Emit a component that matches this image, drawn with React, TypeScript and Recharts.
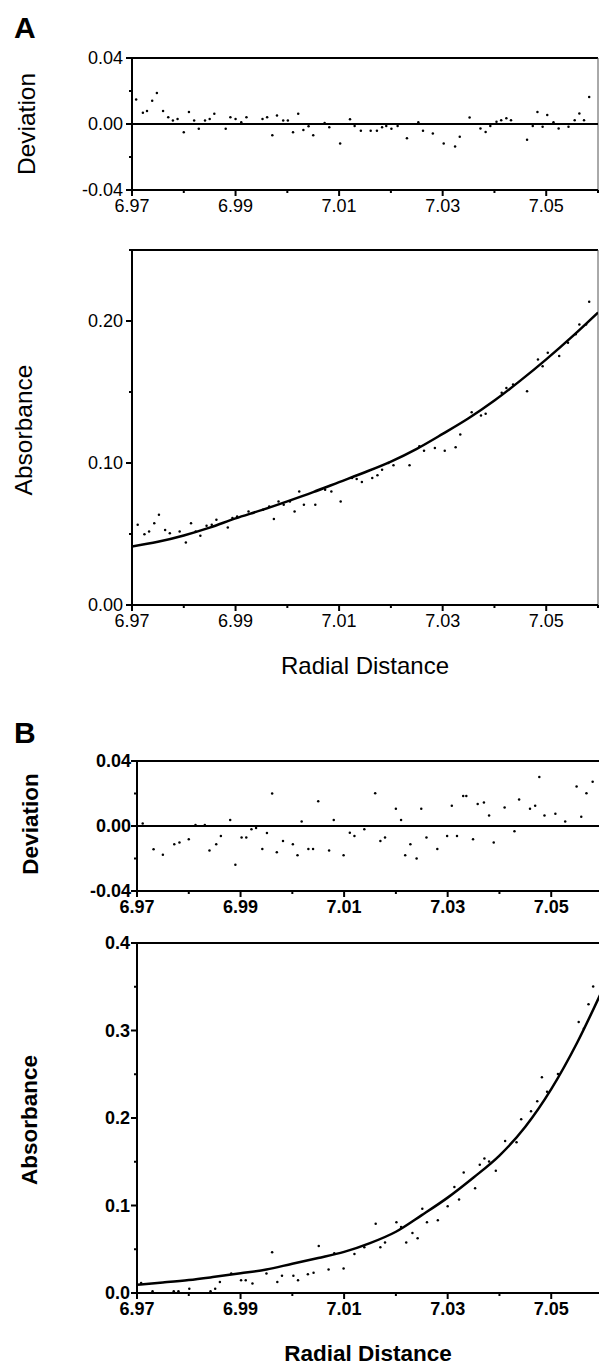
import { ComposedChart, Scatter, Line, XAxis, YAxis, ReferenceLine } from 'recharts';

const FONT = '"Liberation Sans", Arial, sans-serif';

// shared radial axis
const radialTicks = [6.97, 6.98, 6.99, 7.0, 7.01, 7.02, 7.03, 7.04, 7.05, 7.06];
const radialLabels = [6.97, 6.99, 7.01, 7.03, 7.05];

// fitted curves (read every 0.005)
const fitRadius = [6.97, 6.975, 6.98, 6.985, 6.99, 6.995, 7.0, 7.005, 7.01, 7.015, 7.02, 7.025, 7.03, 7.035, 7.04, 7.045, 7.05, 7.055, 7.06];
const fitA = [0.0412, 0.0445, 0.049, 0.0545, 0.061, 0.0668, 0.073, 0.0795, 0.0865, 0.0935, 0.101, 0.11, 0.1205, 0.1315, 0.144, 0.158, 0.173, 0.189, 0.206];
const fitB = [0.0095, 0.012, 0.0148, 0.0185, 0.0225, 0.0268, 0.0335, 0.04, 0.047, 0.057, 0.07, 0.089, 0.109, 0.132, 0.157, 0.19, 0.233, 0.286, 0.348];

// panel A residuals
const devARadius = [6.9708, 6.9721, 6.9729, 6.9739, 6.9748, 6.976, 6.977, 6.9779, 6.9788, 6.98, 6.981, 6.982, 6.9829, 6.9841, 6.985, 6.9859, 6.9881, 6.989, 6.99, 6.9911, 6.9921, 6.9952, 6.9961, 6.9971, 6.998, 6.9992, 7.0001, 7.0011, 7.0021, 7.0031, 7.0041, 7.005, 7.0072, 7.0081, 7.0102, 7.0121, 7.013, 7.0142, 7.0161, 7.0173, 7.0183, 7.0191, 7.0201, 7.0213, 7.0231, 7.0253, 7.0262, 7.0281, 7.0302, 7.0324, 7.0333, 7.0352, 7.0373, 7.0383, 7.0392, 7.0404, 7.0413, 7.0423, 7.0432, 7.0463, 7.0474, 7.0483, 7.0493, 7.0502, 7.0514, 7.0524, 7.0543, 7.0555, 7.0564, 7.0573, 7.0583];
const devAValue = [0.0149, 0.0068, 0.0079, 0.0141, 0.0188, 0.0079, 0.0041, 0.0021, 0.0031, -0.005, 0.0072, 0.0021, -0.0029, 0.0021, 0.0031, 0.0062, -0.0029, 0.0041, 0.0031, 0.001, 0.0041, 0.0031, 0.0041, -0.0068, 0.0052, 0.0021, 0.0021, -0.005, 0.0062, -0.0037, -0.0014, -0.0068, 0.0006, -0.002, -0.0118, 0.0029, -0.0012, -0.0041, -0.0041, -0.0041, -0.002, -0.0012, -0.0029, -0.0012, -0.0087, 0.001, -0.0041, -0.0058, -0.0118, -0.0137, -0.0077, 0.004, -0.0027, -0.0048, -0.0012, 0.0014, 0.0023, 0.0035, 0.0023, -0.0095, -0.0012, 0.0072, -0.0017, 0.0054, 0.001, -0.0027, -0.0017, 0.0023, 0.0064, 0.0023, 0.0164];

// panel A absorbance points
const absARadius = [6.9711, 6.9724, 6.9733, 6.9743, 6.9752, 6.9764, 6.9773, 6.9792, 6.9804, 6.9814, 6.9823, 6.9832, 6.9844, 6.9854, 6.9863, 6.9885, 6.9894, 6.9903, 6.9925, 6.9953, 6.9965, 6.9974, 6.9983, 6.9993, 7.0005, 7.0014, 7.0023, 7.0032, 7.0054, 7.0073, 7.0085, 7.0103, 7.0125, 7.0134, 7.0144, 7.0164, 7.0174, 7.0183, 7.0195, 7.0205, 7.0236, 7.0255, 7.0264, 7.0285, 7.0304, 7.0325, 7.0334, 7.0356, 7.0374, 7.0383, 7.0414, 7.0423, 7.0436, 7.0463, 7.0484, 7.0493, 7.0503, 7.0525, 7.0542, 7.0557, 7.0564, 7.0577, 7.0583];
const absAValue = [0.0565, 0.0499, 0.0518, 0.0576, 0.0635, 0.0529, 0.0506, 0.0518, 0.044, 0.0576, 0.0518, 0.0487, 0.0558, 0.0565, 0.06, 0.0546, 0.0612, 0.0624, 0.0659, 0.0671, 0.0694, 0.0605, 0.0729, 0.0706, 0.0729, 0.0659, 0.08, 0.0706, 0.0706, 0.0812, 0.08, 0.0729, 0.0894, 0.0887, 0.0866, 0.0894, 0.0913, 0.0953, 0.1, 0.0984, 0.0984, 0.1118, 0.1087, 0.1106, 0.1087, 0.1111, 0.12, 0.1358, 0.1334, 0.1346, 0.1494, 0.1529, 0.1553, 0.1506, 0.1729, 0.1682, 0.1776, 0.1753, 0.1847, 0.1906, 0.1976, 0.1976, 0.2136];

// panel B residuals
const devBRadius = [6.9711, 6.9732, 6.975, 6.9772, 6.9782, 6.98, 6.9813, 6.9831, 6.984, 6.9853, 6.9862, 6.988, 6.989, 6.9902, 6.9911, 6.9921, 6.993, 6.9942, 6.9951, 6.9961, 6.997, 6.9982, 7.0001, 7.001, 7.0018, 7.0031, 7.004, 7.005, 7.0071, 7.008, 7.0099, 7.0111, 7.012, 7.0139, 7.016, 7.017, 7.0179, 7.02, 7.021, 7.0218, 7.0228, 7.024, 7.0249, 7.0259, 7.028, 7.0299, 7.0308, 7.0318, 7.033, 7.0336, 7.0349, 7.0358, 7.037, 7.038, 7.0389, 7.041, 7.0429, 7.0438, 7.0459, 7.0469, 7.0477, 7.0487, 7.0508, 7.0527, 7.0549, 7.0558, 7.0568, 7.058];
const devBValue = [0.0016, -0.0143, -0.0177, -0.0112, -0.0102, -0.0082, 0.0006, 0.0006, -0.0151, -0.0112, -0.0061, 0.0037, -0.0239, -0.0071, -0.0071, -0.002, -0.0012, -0.0141, -0.0043, 0.02, -0.0161, -0.0092, -0.0112, -0.018, 0.0027, -0.0141, -0.0141, 0.0153, -0.0151, 0.0037, -0.018, -0.0041, -0.0061, -0.002, 0.0202, -0.0092, -0.0071, 0.0106, 0.0037, -0.018, -0.0112, -0.02, 0.0106, -0.0071, -0.0141, -0.0061, 0.0124, -0.0061, 0.0184, 0.0184, -0.0082, 0.0135, 0.0145, 0.0065, -0.0102, 0.0114, -0.0033, 0.0163, 0.0106, 0.0124, 0.0302, 0.0065, 0.0075, 0.0027, 0.0243, 0.0057, 0.0202, 0.0273];

// panel B absorbance points
const absBRadius = [6.9708, 6.973, 6.9771, 6.978, 6.9801, 6.9842, 6.9851, 6.986, 6.9882, 6.9901, 6.991, 6.9923, 6.995, 6.9961, 6.9971, 6.998, 7.0002, 7.0011, 7.003, 7.0041, 7.0051, 7.007, 7.0081, 7.0099, 7.012, 7.0139, 7.0161, 7.017, 7.0179, 7.0201, 7.021, 7.022, 7.0232, 7.0242, 7.0251, 7.026, 7.0281, 7.03, 7.0313, 7.0322, 7.0331, 7.0353, 7.0362, 7.0371, 7.038, 7.0393, 7.0411, 7.0433, 7.0442, 7.0461, 7.0473, 7.0482, 7.0492, 7.0513, 7.0553, 7.0563, 7.0572, 7.0581];
const absBValue = [0.0115, 0.0019, 0.0019, 0.0019, 0.005, 0.0019, 0.005, 0.0127, 0.0223, 0.0146, 0.0146, 0.0108, 0.0223, 0.0465, 0.0127, 0.0196, 0.0196, 0.0146, 0.0215, 0.0231, 0.0538, 0.0269, 0.0454, 0.0281, 0.0446, 0.0523, 0.0792, 0.0523, 0.0577, 0.0808, 0.0754, 0.0577, 0.0685, 0.0627, 0.0962, 0.0808, 0.0831, 0.0992, 0.1212, 0.1069, 0.1377, 0.1196, 0.1465, 0.1538, 0.1504, 0.1396, 0.1738, 0.1723, 0.1985, 0.2077, 0.2192, 0.2465, 0.23, 0.2504, 0.3096, 0.3019, 0.33, 0.3504];

const devTicks = [-0.04, -0.02, 0, 0.02, 0.04];
const devLabels = [-0.04, 0, 0.04];
const absATicks = [0, 0.05, 0.1, 0.15, 0.2, 0.25];
const absALabels = [0, 0.1, 0.2];
const absBTicks = [0, 0.05, 0.1, 0.15, 0.2, 0.25, 0.3, 0.35, 0.4];
const absBLabels = [0, 0.1, 0.2, 0.3, 0.4];

const toPoints = (rs: number[], vs: number[]) => rs.map((r, i) => ({ r, v: vs[i] }));

const isIn = (list: number[], v: number) => list.some((l) => Math.abs(l - v) < 1e-6);

function xTick(bold: boolean) {
  return (p: any) => {
    const { x, y, payload } = p;
    const major = isIn(radialLabels, payload.value);
    return (
      <g>
        <line x1={x} x2={x} y1={y} y2={y + (major ? 6 : 3)} stroke="#000" strokeWidth={2} />
        {major && (
          <text x={x} y={y + 22} textAnchor="middle" fontSize={18} fontFamily={FONT} fontWeight={bold ? 700 : 400} fill="#000">
            {payload.value.toFixed(2)}
          </text>
        )}
      </g>
    );
  };
}

function yTick(labels: number[], digits: number, gap: number, bold: boolean) {
  return (p: any) => {
    const { x, y, payload } = p;
    const major = isIn(labels, payload.value);
    return (
      <g>
        <line x1={x - (major ? 6 : 3)} x2={x} y1={y} y2={y} stroke="#000" strokeWidth={2} />
        {major && (
          <text x={x - gap} y={y + 6} textAnchor="end" fontSize={18} fontFamily={FONT} fontWeight={bold ? 700 : 400} fill="#000">
            {payload.value.toFixed(digits)}
          </text>
        )}
      </g>
    );
  };
}

const dot = (p: any) => <circle cx={p.cx} cy={p.cy} r={1.25} fill="#000" />;

interface PanelProps {
  top: number;
  width: number;
  height: number;
  marginTop: number;
  axisWidth: number;
  yDomain: [number, number];
  yTicks: number[];
  yLabels: number[];
  digits: number;
  gap: number;
  bold: boolean;
  points: { r: number; v: number }[];
  fit?: { r: number; v: number }[];
  zeroLine?: boolean;
}

function Panel(props: PanelProps) {
  const { top, width, height, marginTop, axisWidth, yDomain, yTicks, yLabels, digits, gap, bold, points, fit, zeroLine } = props;
  return (
    <div style={{ position: 'absolute', left: 0, top }}>
      <ComposedChart width={width} height={height} margin={{ top: marginTop, right: 1, bottom: 0, left: 0 }}>
        <XAxis
          type="number"
          dataKey="r"
          domain={[6.97, 7.06]}
          ticks={radialTicks}
          interval={0}
          allowDataOverflow
          height={40}
          tickSize={0}
          tickMargin={0}
          axisLine={{ stroke: '#000', strokeWidth: 2 }}
          tick={xTick(bold)}
        />
        <YAxis
          type="number"
          domain={yDomain}
          ticks={yTicks}
          interval={0}
          allowDataOverflow
          width={axisWidth}
          tickSize={0}
          tickMargin={0}
          axisLine={{ stroke: '#000', strokeWidth: 2 }}
          tick={yTick(yLabels, digits, gap, bold)}
        />
        <ReferenceLine y={yDomain[1]} stroke="#000" strokeWidth={2} />
        <ReferenceLine x={7.06} stroke="#555" strokeWidth={1} />
        {zeroLine && <ReferenceLine y={0} stroke="#000" strokeWidth={2} />}
        <Scatter data={points} dataKey="v" fill="#000" shape={dot} isAnimationActive={false} />
        {fit && <Line data={fit} dataKey="v" type="monotone" stroke="#000" strokeWidth={2.5} dot={false} activeDot={false} isAnimationActive={false} />}
      </ComposedChart>
    </div>
  );
}

export default function App() {
  return (
    <div style={{ position: 'absolute', left: 0, top: 0, width: 599, height: 1365, overflow: 'hidden', background: '#fff', fontFamily: FONT }}>
      <Panel top={0} width={599} height={230} marginTop={58} axisWidth={132} yDomain={[-0.04, 0.04]} yTicks={devTicks} yLabels={devLabels} digits={2} gap={9} bold={false} points={toPoints(devARadius, devAValue)} zeroLine />
      <Panel top={200} width={599} height={445} marginTop={50} axisWidth={132} yDomain={[0, 0.25]} yTicks={absATicks} yLabels={absALabels} digits={2} gap={9} bold={false} points={toPoints(absARadius, absAValue)} fit={toPoints(fitRadius, fitA)} />
      <Panel top={711} width={604} height={220} marginTop={50} axisWidth={137} yDomain={[-0.04, 0.04]} yTicks={devTicks} yLabels={devLabels} digits={2} gap={6} bold points={toPoints(devBRadius, devBValue)} zeroLine />
      <Panel top={900} width={604} height={433} marginTop={43} axisWidth={137} yDomain={[0, 0.4]} yTicks={absBTicks} yLabels={absBLabels} digits={1} gap={7} bold points={toPoints(absBRadius, absBValue)} fit={toPoints(fitRadius, fitB)} />
      <svg width={599} height={1365} style={{ position: 'absolute', left: 0, top: 0, pointerEvents: 'none' }}>
        <g fontFamily={FONT} fill="#000">
          <text x={14} y={38} fontSize={30} fontWeight={700}>A</text>
          <text x={14} y={743} fontSize={30} fontWeight={700}>B</text>
          <text transform="translate(35,124) rotate(-90)" textAnchor="middle" fontSize={24.5}>Deviation</text>
          <text transform="translate(32,430) rotate(-90)" textAnchor="middle" fontSize={24.5}>Absorbance</text>
          <text x={365} y={674} textAnchor="middle" fontSize={24}>Radial Distance</text>
          <text transform="translate(38,824) rotate(-90)" textAnchor="middle" fontSize={22.5} fontWeight={700}>Deviation</text>
          <text transform="translate(37,1120) rotate(-90)" textAnchor="middle" fontSize={22.5} fontWeight={700}>Absorbance</text>
          <text x={368} y={1361} textAnchor="middle" fontSize={22.5} fontWeight={700}>Radial Distance</text>
        </g>
      </svg>
    </div>
  );
}
